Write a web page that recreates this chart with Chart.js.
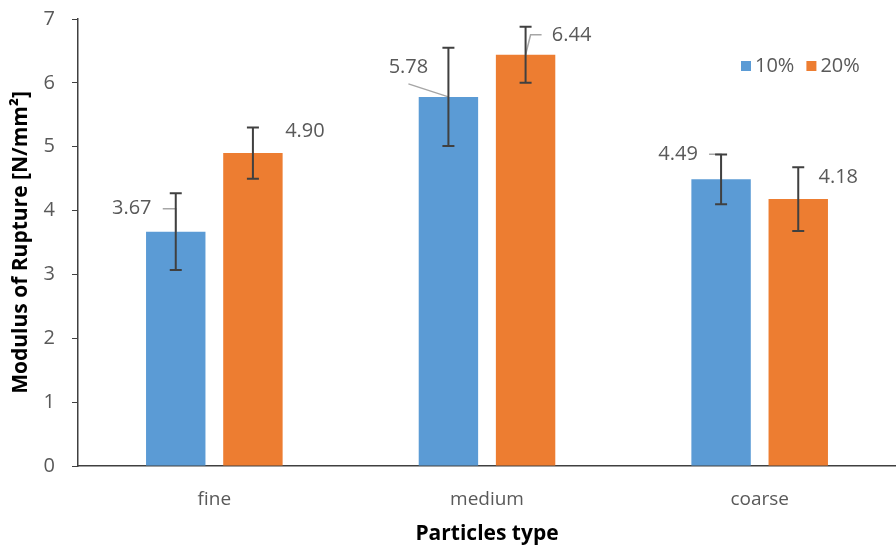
<!DOCTYPE html>
<html>
<head>
<meta charset="utf-8">
<script src="https://cdn.jsdelivr.net/npm/chart.js@4.4.0/dist/chart.umd.min.js"></script>
<style>
  html, body { margin: 0; padding: 0; background: #fff; }
  #wrap { width: 896px; height: 551px; }
</style>
</head>
<body>
<div id="wrap"><canvas id="graph"></canvas></div>
<script>
// data
var categories = ['fine', 'medium', 'coarse'];
var seriesNames = ['10%', '20%'];
var vals10 = [3.67, 5.78, 4.49];
var vals20 = [4.90, 6.44, 4.18];
var err10 = [0.60, 0.77, 0.39];
var err20 = [0.40, 0.44, 0.50];
var yTicks = [0, 1, 2, 3, 4, 5, 6, 7];

const textCol = '#595959';
const font = "'Open Sans', sans-serif";

// where each value label sits relative to its bar top (dx, dy) and its leader line style
var labelPos = [
  [[-44, -23, 'stub'], [-40, -30, 'long'], [-43, -25, 'stub']],
  [[52, -22, null], [46, -19, 'hook'], [40, -22, null]]
];

var errorBars = {
  id: 'errorBars',
  afterDatasetsDraw(chart) {
    var c = chart.ctx;
    var y = chart.scales.y;
    var errs = [err10, err20];
    chart.data.datasets.forEach(function(ds, di) {
      var meta = chart.getDatasetMeta(di);
      meta.data.forEach(function(bar, i) {
        var v = ds.data[i];
        var x = bar.x;
        var top = bar.y;
        var lp = labelPos[di][i];
        var tx = x + lp[0], ty = top + lp[1];
        // leader lines
        c.save();
        c.strokeStyle = '#a6a6a6';
        c.lineWidth = 1.5;
        if (lp[2] === 'stub') {
          c.beginPath();
          c.moveTo(tx + 31, ty);
          c.lineTo(x, ty);
          c.lineTo(x, top);
          c.stroke();
        } else if (lp[2] === 'long') {
          c.beginPath();
          c.moveTo(tx, ty + 17);
          c.lineTo(x, top);
          c.stroke();
        } else if (lp[2] === 'hook') {
          c.beginPath();
          c.moveTo(x, top);
          c.lineTo(x + 5, ty - 1);
          c.lineTo(x + 16, ty - 1);
          c.stroke();
        }
        c.restore();
        // error bar
        var e = errs[di][i];
        var yHi = y.getPixelForValue(v + e);
        var yLo = y.getPixelForValue(v - e);
        c.save();
        c.strokeStyle = '#404040';
        c.lineWidth = 2;
        c.beginPath();
        c.moveTo(x, yHi); c.lineTo(x, yLo);
        c.moveTo(x - 6, yHi); c.lineTo(x + 6, yHi);
        c.moveTo(x - 6, yLo); c.lineTo(x + 6, yLo);
        c.stroke();
        c.restore();
        // value label
        c.save();
        c.fillStyle = textCol;
        c.font = "20px " + font;
        c.textAlign = 'center';
        c.textBaseline = 'middle';
        c.fillText(v.toFixed(2), tx, ty);
        c.restore();
      });
    });
  },
  afterDraw(chart) {
    // legend in top right corner
    var c = chart.ctx;
    var items = chart.data.datasets;
    var x = 741, yy = 66;
    c.save();
    c.font = "20px " + font;
    c.textBaseline = 'middle';
    items.forEach(function(ds) {
      c.fillStyle = ds.backgroundColor;
      c.fillRect(x, yy - 5, 10, 10);
      c.fillStyle = textCol;
      c.fillText(ds.label, x + 14, yy);
      x += 14 + c.measureText(ds.label).width + 12;
    });
    c.restore();
  }
};

var g = document.getElementById('graph').getContext('2d');
var graph = new Chart(g, {
  type: 'bar',
  data: {
    labels: categories,
    datasets: [
      { label: seriesNames[0], data: vals10, backgroundColor: '#5B9BD5' },
      { label: seriesNames[1], data: vals20, backgroundColor: '#ED7D31' }
    ]
  },
  options: {
    responsive: true,
    maintainAspectRatio: false,
    animation: false,
    layout: { padding: { top: 19, right: -9, left: 0, bottom: 0 } },
    categoryPercentage: 0.566,
    barPercentage: 0.77,
    plugins: {
      legend: { display: false },
      tooltip: { enabled: false }
    },
    scales: {
      x: {
        grid: { display: false },
        border: { color: '#404040', width: 1.5 },
        ticks: { color: textCol, font: { family: font, size: 19 }, padding: 14 },
        title: {
          display: true, text: 'Particles type', color: '#000',
          font: { family: font, size: 21, weight: 'bold' }, padding: { top: 10 }
        },
        afterFit: function(s) { s.height = 85; }
      },
      y: {
        min: 0, max: 7,
        afterBuildTicks: function(s) { s.ticks = yTicks.map(function(v) { return { value: v }; }); },
        grid: { drawOnChartArea: false, tickLength: 6, color: '#404040' },
        border: { color: '#404040', width: 1.5 },
        ticks: { color: textCol, font: { family: font, size: 20 }, padding: 17 },
        title: {
          display: true, text: 'Modulus of Rupture [N/mm²]', color: '#000',
          font: { family: font, size: 21, weight: 'bold' }, padding: { top: 8, bottom: 0 }
        },
        afterFit: function(s) { s.width = 78; s.paddingTop = 0; s.paddingBottom = 0; }
      }
    }
  },
  plugins: [errorBars]
});
</script>
</body>
</html>
